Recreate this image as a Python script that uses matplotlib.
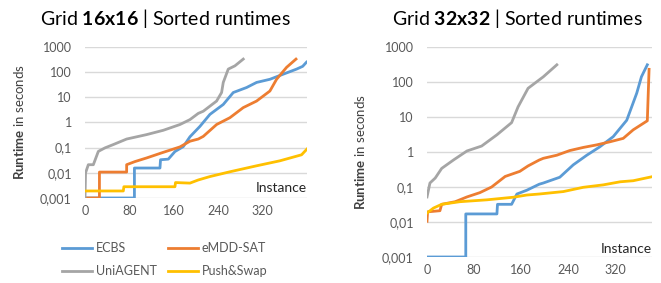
# ---------------------------------------------------------------------------------------------- #
# Sorted runtimes for the 16x16 and 32x32 grids.
# ---------------------------------------------------------------------------------------------- #
import matplotlib
matplotlib.use('Agg')
import matplotlib.pyplot as plt

# We define plot properties.
FontType = 'Lato'
TextColor = '#595959'
GridColor = '#d9d9d9'
Colors = ['#5b9bd5', '#ed7d31', '#a5a5a5', '#ffc000']
Labels = ['ECBS', 'eMDD-SAT', 'UniAGENT', 'Push&Swap']
YTicks = [0.001, 0.01, 0.1, 1, 10, 100, 1000]
YTickLabels = ['0,001', '0,01', '0,1', '1', '10', '100', '1000']
XTicks = [0, 80, 160, 240, 320]

plt.rcParams['font.family'] = [FontType, 'DejaVu Sans']
plt.rcParams['mathtext.fontset'] = 'custom'
plt.rcParams['mathtext.rm'] = FontType
plt.rcParams['mathtext.bf'] = FontType + ':bold'

# ---------------------------------------------------------------------------------------------- #
# We define each data set (instance, runtime in seconds).
# ---------------------------------------------------------------------------------------------- #
# Grid 16x16.
G16_ECBS_X = [0, 89, 89, 135, 136, 150, 162, 177, 189, 207, 225, 249, 267, 291, 309, 333, 357, 381, 392, 399]
G16_ECBS_Y = [0.001, 0.001, 0.0155, 0.0155, 0.033, 0.035, 0.07, 0.11, 0.27, 0.7, 2.1, 5.2, 15.5, 24.5, 39, 52, 83, 132, 170, 250]
G16_EMDD_X = [0, 26, 26, 75, 75, 90, 111, 138, 171, 189, 204, 213, 237, 261, 285, 309, 333, 345, 363, 380]
G16_EMDD_Y = [0.001, 0.001, 0.0107, 0.0107, 0.021, 0.028, 0.039, 0.062, 0.107, 0.18, 0.22, 0.28, 0.83, 1.55, 3.9, 7.1, 17.8, 52, 155, 330]
G16_UNI_X = [0, 1, 6, 15, 24, 36, 50, 75, 111, 141, 171, 189, 204, 213, 237, 246, 249, 258, 270, 285]
G16_UNI_Y = [0.001, 0.01, 0.021, 0.021, 0.071, 0.098, 0.13, 0.22, 0.33, 0.49, 0.83, 1.3, 2.3, 2.8, 7.1, 15.5, 39, 132, 178, 330]
G16_PS_X = [0, 69, 70, 162, 163, 189, 204, 225, 261, 309, 351, 390, 400]
G16_PS_Y = [0.0019, 0.0019, 0.0028, 0.0028, 0.0041, 0.0039, 0.0052, 0.0071, 0.011, 0.019, 0.030, 0.052, 0.089]

# Grid 32x32.
G32_ECBS_X = [0, 66, 66, 119, 120, 144, 153, 170, 191, 198, 226, 249, 272, 294, 317, 340, 357, 365, 375]
G32_ECBS_Y = [0.001, 0.001, 0.017, 0.017, 0.032, 0.032, 0.063, 0.081, 0.12, 0.13, 0.19, 0.43, 0.81, 1.4, 2.75, 8.1, 48, 141, 310]
G32_EMDD_X = [0, 1, 22, 25, 48, 68, 90, 110, 133, 158, 172, 191, 198, 221, 243, 266, 289, 311, 334, 351, 375, 378]
G32_EMDD_Y = [0.0105, 0.0195, 0.021, 0.032, 0.038, 0.052, 0.069, 0.10, 0.20, 0.28, 0.40, 0.59, 0.66, 0.81, 1.1, 1.35, 1.6, 1.95, 2.45, 4.3, 7.8, 230]
G32_UNI_X = [0, 5, 14, 25, 45, 68, 93, 119, 144, 155, 172, 191, 198, 221]
G32_UNI_Y = [0.052, 0.13, 0.18, 0.34, 0.59, 1.07, 1.48, 3.1, 6.9, 19.5, 66, 115, 141, 310]
G32_PS_X = [0, 11, 25, 56, 102, 147, 170, 191, 232, 266, 300, 329, 351, 382]
G32_PS_Y = [0.018, 0.025, 0.032, 0.038, 0.043, 0.051, 0.059, 0.063, 0.074, 0.098, 0.115, 0.141, 0.151, 0.195]


# ---------------------------------------------------------------------------------------------- #
# We configure one panel.
# ---------------------------------------------------------------------------------------------- #
def configure(ax, xmax, ylabelpad, instance_y):
    ax.set_yscale('log')
    ax.set_xlim([0, xmax])
    ax.set_ylim([0.001, 1000])
    ax.set_yticks(YTicks)
    ax.set_yticklabels(YTickLabels)
    ax.minorticks_off()
    ax.set_xticks(XTicks)
    ax.tick_params(length=0, labelsize=9, colors=TextColor)
    ax.tick_params(axis='y', pad=9.5)
    ax.tick_params(axis='x', pad=5)
    ax.grid(axis='y', color=GridColor, lw=1)
    ax.set_axisbelow(True)
    for s in ax.spines.values():
        s.set_visible(False)
    ax.set_ylabel(r'$\mathbf{Runtime}$ in seconds', fontsize=9.5, color='#404040', labelpad=ylabelpad)
    ax.text(1.0, instance_y, 'Instance', transform=ax.transAxes, ha='right', va='center',
            fontsize=10, color='#262626')


fig = plt.figure(figsize=(6.61, 2.83), dpi=100)

# We generate the 16x16 panel.
ax1 = fig.add_axes([0.1286, 0.3004, 0.336, 0.5336])
ax1.plot(G16_ECBS_X, G16_ECBS_Y, c=Colors[0], lw=2, label=Labels[0])
ax1.plot(G16_EMDD_X, G16_EMDD_Y, c=Colors[1], lw=2, label=Labels[1])
ax1.plot(G16_UNI_X, G16_UNI_Y, c=Colors[2], lw=2, label=Labels[2])
ax1.plot(G16_PS_X, G16_PS_Y, c=Colors[3], lw=2, label=Labels[3])
configure(ax1, 400, 10, 0.066)

# We generate the 32x32 panel.
ax2 = fig.add_axes([0.646, 0.0919, 0.3404, 0.742])
ax2.plot(G32_ECBS_X, G32_ECBS_Y, c=Colors[0], lw=2)
ax2.plot(G32_EMDD_X, G32_EMDD_Y, c=Colors[1], lw=2)
ax2.plot(G32_UNI_X, G32_UNI_Y, c=Colors[2], lw=2)
ax2.plot(G32_PS_X, G32_PS_Y, c=Colors[3], lw=2)
configure(ax2, 383, 11, 0.04)

# We add the titles.
fig.text(165 / 661, 1 - 18 / 283, r'Grid $\mathbf{16x16}$ | Sorted runtimes', ha='center', va='center',
         fontsize=14, color='#000000')
fig.text(517 / 661, 1 - 18 / 283, r'Grid $\mathbf{32x32}$ | Sorted runtimes', ha='center', va='center',
         fontsize=14, color='#000000')

# We add the legend below the left panel (rows: ECBS / eMDD-SAT, UniAGENT / Push&Swap).
Handles, Names = ax1.get_legend_handles_labels()
Order = [0, 2, 1, 3]
fig.legend([Handles[i] for i in Order], [Names[i] for i in Order], ncol=2, frameon=False, loc='center',
           bbox_to_anchor=(165 / 661, 1 - 259.5 / 283), fontsize=9, labelcolor=TextColor,
           handlelength=2.4, handletextpad=0.3, columnspacing=0.9, labelspacing=0.9)

plt.savefig('out.png', dpi=100)
